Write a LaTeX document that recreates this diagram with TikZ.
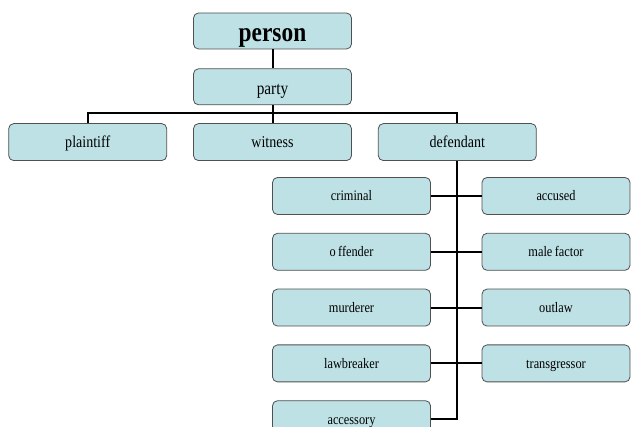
\documentclass[tikz,border=0pt]{standalone}
\usepackage{fontspec}
\setmainfont{Liberation Serif}[FakeStretch=0.85]
\usetikzlibrary{positioning}

\definecolor{boxfill}{RGB}{189,225,229}
\definecolor{boxline}{RGB}{80,80,80}

\begin{document}
\begin{tikzpicture}[
			x=1pt, y=-1pt,
			node distance=18pt,
			box/.style={
					draw=boxline,
					fill=boxfill,
					line width=0.8pt,
					rounded corners=5pt,
					inner sep=0pt,
					minimum width=158pt,
					minimum height=37pt,
					text height=11pt,
					text depth=0pt,
					font=\fontsize{16.5}{18}\selectfont
				},
			small/.style={
					box,
					text height=10pt,
					font=\fontsize{14.5}{16}\selectfont
				},
			link/.style={line width=2pt, black}
		]

		\useasboundingbox (0,0) rectangle (632,427);

		\node[box, minimum height=36pt, text height=21pt,
			font=\fontsize{27.5}{30}\selectfont\bfseries] (person) at (272.5,31) {person};

		\node[box, minimum height=36pt, text height=16pt,
			font=\fontsize{18}{20}\selectfont] (party) [below=19pt of person] {party};

		\node[box] (witness) [below=18pt of party] {witness};
		\node[box] (plaintiff) [left=26pt of witness] {plaintiff};
		\node[box] (defendant) [right=26pt of witness] {defendant};

		% left column
		\node[small] (criminal) at (351.5,196) {criminal};
		\node[small] (offender) [below=of criminal] {o\,ffender};
		\node[small] (murderer) [below=of offender] {murderer};
		\node[small] (lawbreaker) [below=of murderer] {lawbreaker};
		\node[small] (accessory) [below=of lawbreaker] {accessory};

		% right column
		\node[small, minimum width=148pt] (accused) at (556,196) {accused};
		\node[small, minimum width=148pt] (malefactor) [below=of accused] {male\,factor};
		\node[small, minimum width=148pt] (outlaw) [below=of malefactor] {outlaw};
		\node[small, minimum width=148pt] (transgressor) [below=of outlaw] {transgressor};

		\draw[link] (person) -- (party);
		\draw[link] (party) -- (witness);
		\draw[link] (party.south) -- ++(0,8) -| (plaintiff.north);
		\draw[link] (party.south) -- ++(0,8) -| (defendant.north);

		\draw[link] (defendant.south) |- (accessory.east);
		\draw[link] (criminal) -- (accused);
		\draw[link] (offender) -- (malefactor);
		\draw[link] (murderer) -- (outlaw);
		\draw[link] (lawbreaker) -- (transgressor);

	\end{tikzpicture}
\end{document}
